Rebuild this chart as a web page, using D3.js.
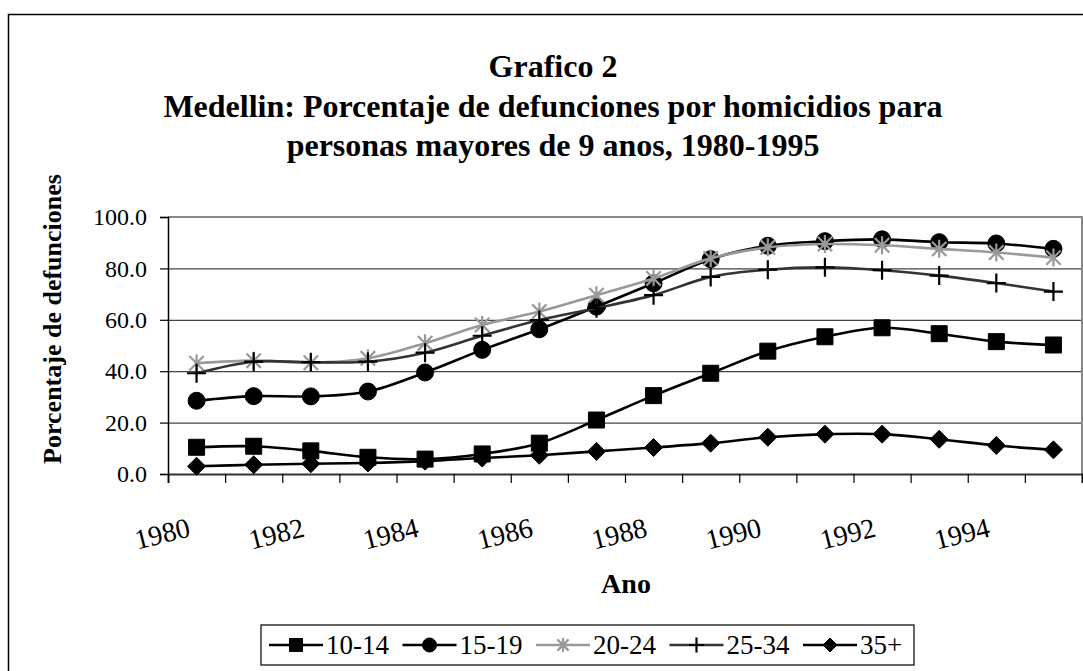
<!DOCTYPE html>
<html>
<head>
<meta charset="utf-8">
<script src="https://cdn.jsdelivr.net/npm/d3@7"></script>
<style>
  html, body { margin: 0; padding: 0; background: #fff; }
  svg { display: block; }
  text { font-family: "Liberation Serif", "Times New Roman", serif; fill: #000; }
</style>
</head>
<body>
<svg id="chart" width="1083" height="671"></svg>
<script>
// ---- data ----
const years = [1980,1981,1982,1983,1984,1985,1986,1987,1988,1989,1990,1991,1992,1993,1994,1995];
const yearLabels = [1980,1982,1984,1986,1988,1990,1992,1994];
const yTicks = [0,20,40,60,80,100];
const seriesNames = ["10-14","15-19","20-24","25-34","35+"];
const s10_14 = [10.4,10.8,9.0,6.5,5.8,7.8,12.0,21.0,30.5,39.2,47.8,53.4,56.9,54.6,51.5,50.2];
const s15_19 = [28.5,30.3,30.2,32.1,39.5,48.3,56.3,65.1,74.2,83.6,88.8,90.6,91.3,90.2,89.7,87.6];
const s20_24 = [43.1,44.1,43.3,45.0,50.9,58.0,63.2,69.6,76.1,83.9,88.2,89.5,89.0,87.6,86.2,84.2];
const s25_34 = [39.2,43.7,43.5,43.7,47.2,53.8,59.9,64.5,69.6,76.7,79.5,80.4,79.3,77.2,74.3,71.0];
const s35 = [3.0,3.6,4.0,4.3,5.0,6.2,7.3,8.8,10.3,12.0,14.3,15.5,15.5,13.5,11.1,9.4];

const titleLines = ["Grafico 2","Medellin: Porcentaje de defunciones por homicidios para","personas mayores de 9 anos, 1980-1995"];

const seriesStyle = {
  "10-14": {line:"#000", marker:"square", mfill:"#000"},
  "15-19": {line:"#000", marker:"circle", mfill:"#000"},
  "20-24": {line:"#999", marker:"star", mfill:"#999"},
  "25-34": {line:"#333", marker:"plus", mfill:"#000"},
  "35+":   {line:"#000", marker:"diamond", mfill:"#000"}
};
const seriesValues = [s10_14, s15_19, s20_24, s25_34, s35];

// ---- layout ----
const svg = d3.select("#chart");
const L = 168, R = 1082, T = 217, B = 474;

// outer chart frame (right/bottom edges fall outside the view)
svg.append("rect").attr("x",8.5).attr("y",14.5).attr("width",1090).attr("height",700)
  .attr("fill","none").attr("stroke","#000").attr("stroke-width",1.5);

const x = d3.scaleBand().domain(years).range([L,R]).padding(0);
const xi = d3.scaleLinear().domain([0, years.length]).range([L,R]);
const y = d3.scaleLinear().domain([0,100]).range([B,T]);
const cx = d => x(d) + x.bandwidth()/2;

// gridlines
svg.append("g").attr("transform",`translate(${L},0)`)
  .call(d3.axisLeft(y).tickValues(yTicks.filter(v=>v>0 && v<100)).tickSize(-(R-L)).tickFormat(""))
  .call(g => g.select(".domain").remove())
  .call(g => g.selectAll("line").attr("stroke","#444").attr("stroke-width",1.2));

// plot border top/right (gray)
svg.append("path").attr("d",`M${L},${T}H${R}V${B}`).attr("fill","none")
  .attr("stroke","#888").attr("stroke-width",2);

// y axis
const yAx = svg.append("g").attr("transform",`translate(${L},0)`)
  .call(d3.axisLeft(y).tickValues(yTicks).tickSize(8).tickPadding(13).tickFormat(d3.format(".1f")));
yAx.select(".domain").attr("stroke","#000").attr("stroke-width",1.5);
yAx.selectAll("line").attr("stroke","#000").attr("stroke-width",1.2);
yAx.selectAll("text").style("font-size","24px").style("font-family","'Liberation Serif', serif").attr("fill","#000");

// x axis (ticks at category boundaries)
const xAx = svg.append("g").attr("transform",`translate(0,${B})`)
  .call(d3.axisBottom(xi).tickValues(d3.range(0, years.length+1)).tickSize(9).tickFormat(""));
xAx.select(".domain").attr("stroke","#333").attr("stroke-width",2);
xAx.selectAll("line").attr("stroke","#000").attr("stroke-width",1.2);

// x labels (rotated)
svg.append("g").selectAll("text").data(yearLabels).join("text")
  .attr("transform", d => `translate(${cx(d)-5},${B+62}) rotate(-14)`)
  .attr("text-anchor","end")
  .style("font-size","28px")
  .text(d => d);

// axis titles
svg.append("text").attr("x",626).attr("y",593).attr("text-anchor","middle")
  .style("font-size","28px").style("font-weight","bold").text("Ano");
svg.append("text").attr("transform","translate(61,319) rotate(-90)").attr("text-anchor","middle")
  .style("font-size","26px").style("font-weight","bold").text("Porcentaje de defunciones");

// title
svg.append("g").selectAll("text").data(titleLines).join("text")
  .attr("x",553).attr("y",(d,i)=>77+i*39.5).attr("text-anchor","middle")
  .style("font-size","32px").style("font-weight","bold").text(d=>d);

// marker drawing
function markerPath(type, s) {
  const h = s/2;
  switch(type) {
    case "square": return `M${-h},${-h}H${h}V${h}H${-h}Z`;
    case "diamond": return `M0,${-h}L${h},0L0,${h}L${-h},0Z`;
    case "plus": return `M${-h},0H${h}M0,${-h}V${h}`;
    case "star": { const k = h*0.8; return `M${-k},${-k}L${k},${k}M${-k},${k}L${k},${-k}M0,${-h}V${h}`; }
    case "circle": return `M${h},0A${h},${h} 0 1,1 ${-h},0A${h},${h} 0 1,1 ${h},0Z`;
  }
}
function drawMarker(g, type, color, s) {
  const filled = (type==="square"||type==="diamond"||type==="circle");
  g.append("path").attr("d", markerPath(type, s))
    .attr("fill", filled ? color : "none")
    .attr("stroke", color).attr("stroke-width", filled ? 1 : 2.2);
}

const line = d3.line().x(d=>cx(d.year)).y(d=>y(d.v)).curve(d3.curveCatmullRom.alpha(0));
const markerSize = {square:16, circle:17, star:18, plus:19, diamond:18};

seriesNames.forEach((name, si) => {
  const st = seriesStyle[name];
  const pts = years.map((yr,i)=>({year:yr, v:seriesValues[si][i]}));
  const g = svg.append("g");
  g.append("path").datum(pts).attr("d", line).attr("fill","none")
    .attr("stroke", st.line).attr("stroke-width",2.6);
  pts.forEach(p => {
    const mg = g.append("g").attr("transform",`translate(${cx(p.year)},${y(p.v)})`);
    drawMarker(mg, st.marker, st.mfill, markerSize[st.marker]);
  });
});

// legend
const lg = svg.append("g");
lg.append("rect").attr("x",261).attr("y",625).attr("width",653).attr("height",40)
  .attr("fill","#fff").attr("stroke","#000").attr("stroke-width",1.2);
const legSize = {square:13, circle:14, star:14, plus:15, diamond:14};
seriesNames.forEach((name, i) => {
  const st = seriesStyle[name];
  const x0 = 269 + i*133.5;
  const it = lg.append("g").attr("transform",`translate(${x0},645)`);
  it.append("line").attr("x1",0).attr("x2",54).attr("y1",0).attr("y2",0)
    .attr("stroke", st.line).attr("stroke-width",2.6);
  drawMarker(it.append("g").attr("transform","translate(27,0)"), st.marker, st.mfill, legSize[st.marker]);
  it.append("text").attr("x",57).attr("y",9).style("font-size","27px").text(name);
});
</script>
</body>
</html>
